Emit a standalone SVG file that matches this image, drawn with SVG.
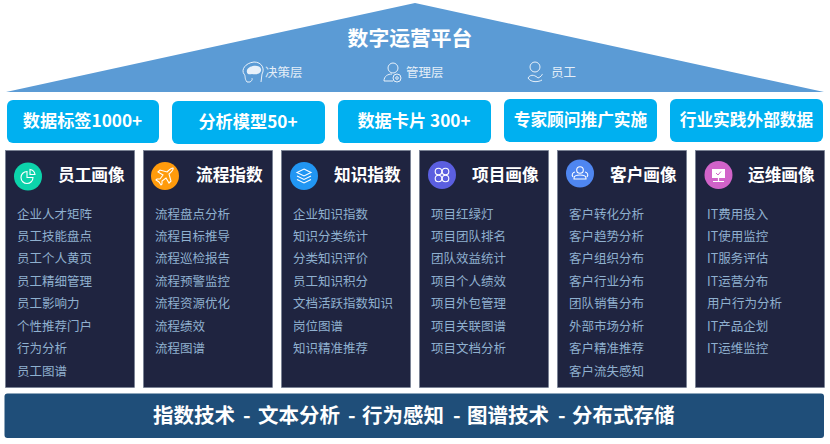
<svg xmlns="http://www.w3.org/2000/svg" width="830" height="444" viewBox="0 0 830 444">
<style>
text{font-family:"Noto Sans CJK SC","Noto Sans",sans-serif}
.top{fill:#00b0f0}
.tt{fill:#fff;font-size:16.7px;font-weight:700;text-anchor:middle}
.tb{font-size:17.2px}
.col{fill:#1f2440;stroke:#6f7a90;stroke-width:.6}
.h{fill:#fff;font-size:16.7px;font-weight:700}
.l{fill:#8fb0cf;font-size:12.5px}
.ic{fill:none;stroke:#fff;stroke-width:1.1}
.wl{fill:#e4eef8;font-size:12.5px}
.ww{fill:none;stroke:#e8f1fa;stroke-width:1}
</style>
<rect width="830" height="444" fill="#fff"/>
<g id="roof">
<polygon points="415,3 824,92 6,92" fill="#5b9bd5"/>
<text x="410" y="46" fill="#fff" font-size="20.8" font-weight="700" text-anchor="middle">数字运营平台</text>
<path class="ww" d="M247 82C244 78 246 76 244 74C241 70 245 63 254 62C262 62 265 69 262 74L261 82M247 82H250C253 80 252 79 252 78"/>
<path d="M247 70C249 65 260 64 261 69C262 74 255 75 252 74C249 75 246 74 247 70Z" fill="#e8f1fa"/>
<text x="265" y="76.500" class="wl">决策层</text>
<circle cx="393" cy="68" r="5" class="ww"/>
<path class="ww" d="M384 81C384 76 388 74 392 74M384 81H393"/>
<circle cx="397" cy="78" r="4" class="ww"/><circle cx="397" cy="78" r="1.300" class="ww"/>
<text x="406" y="76.500" class="wl">管理层</text>
<circle cx="535" cy="67" r="5" class="ww"/>
<path class="ww" d="M528 78C531 73 536 76 538 78C541 77 543 74 542 74M528 78C531 83 539 82 542 80"/>
<text x="551" y="76.500" class="wl">员工</text>
</g>
<g id="box1"><rect class="top" x="7" y="100" width="152" height="43" rx="6"/><text class="tt tb" x="82.500" y="127">数据标签1000+</text></g>
<g id="box2"><rect class="top" x="172" y="101" width="153" height="43" rx="6"/><text class="tt tb" x="248" y="128">分析模型50+</text></g>
<g id="box3"><rect class="top" x="338" y="100" width="153" height="43" rx="6"/><text class="tt tb" x="414" y="127">数据卡片 300+</text></g>
<g id="box4"><rect class="top" x="504" y="99" width="153" height="43" rx="6"/><text class="tt" x="580.500" y="126">专家顾问推广实施</text></g>
<g id="box5"><rect class="top" x="670" y="99" width="153" height="43" rx="6"/><text class="tt" x="746.500" y="126">行业实践外部数据</text></g>

<g id="col1"><rect class="col" x="5.500" y="150.500" width="129" height="237"/>
<circle cx="28" cy="176.500" r="14" fill="#0cd3ab"/>
<path class="ic" d="M27 171.500A6 6 0 1 0 33 177.500H27ZM30 169.500A6 6 0 0 1 35 174.500H30Z"/>
<text class="h" x="58" y="181">员工画像</text>
<text class="l" x="17" y="219">企业人才矩阵</text><text class="l" x="17" y="241">员工技能盘点</text><text class="l" x="17" y="263">员工个人黄页</text><text class="l" x="17" y="286">员工精细管理</text><text class="l" x="17" y="308">员工影响力</text><text class="l" x="17" y="331">个性推荐门户</text><text class="l" x="17" y="353">行为分析</text><text class="l" x="17" y="376">员工图谱</text></g>

<g id="col2"><rect class="col" x="143.500" y="150.500" width="129" height="237"/>
<circle cx="165" cy="176" r="14" fill="#ff9b0c"/>
<path class="ic" d="M173 168C171 168 168 171 167 172L160 170L158 172L163 175L160 179L157 179L156 180L159 182L161 185L162 184L162 181L166 178L169 183L171 181L169 174C171 172 174 170 173 168Z"/>
<text class="h" x="196" y="181">流程指数</text>
<text class="l" x="155" y="219">流程盘点分析</text><text class="l" x="155" y="241">流程目标推导</text><text class="l" x="155" y="263">流程巡检报告</text><text class="l" x="155" y="286">流程预警监控</text><text class="l" x="155" y="308">流程资源优化</text><text class="l" x="155" y="331">流程绩效</text><text class="l" x="155" y="353">流程图谱</text></g>

<g id="col3"><rect class="col" x="281.500" y="150.500" width="129" height="237"/>
<circle cx="304" cy="176" r="14" fill="#2196f3"/>
<path class="ic" d="M304 169L311 172.500L304 176L297 172.500ZM297 176L304 179.500L311 176M297 179.500L304 183L311 179.500"/>
<text class="h" x="334" y="181">知识指数</text>
<text class="l" x="293" y="219">企业知识指数</text><text class="l" x="293" y="241">知识分类统计</text><text class="l" x="293" y="263">分类知识评价</text><text class="l" x="293" y="286">员工知识积分</text><text class="l" x="293" y="308">文档活跃指数知识</text><text class="l" x="293" y="331">岗位图谱</text><text class="l" x="293" y="353">知识精准推荐</text></g>

<g id="col4"><rect class="col" x="419.500" y="150.500" width="129" height="237"/>
<circle cx="442" cy="175" r="14" fill="#5b5fe0"/>
<g class="ic"><circle cx="438.500" cy="171.500" r="3.300"/><circle cx="445.500" cy="171.500" r="3.300"/><circle cx="438.500" cy="178.500" r="3.300"/><circle cx="445.500" cy="178.500" r="3.300"/></g>
<text class="h" x="472" y="181">项目画像</text>
<text class="l" x="431" y="219">项目红绿灯</text><text class="l" x="431" y="241">项目团队排名</text><text class="l" x="431" y="263">团队效益统计</text><text class="l" x="431" y="286">项目个人绩效</text><text class="l" x="431" y="308">项目外包管理</text><text class="l" x="431" y="331">项目关联图谱</text><text class="l" x="431" y="353">项目文档分析</text></g>

<g id="col5"><rect class="col" x="557.500" y="150.500" width="129" height="237"/>
<circle cx="580" cy="173.500" r="14" fill="#4f86f0"/>
<g class="ic"><circle cx="580" cy="170" r="3.300"/><path d="M574 178C574 174 586 174 586 178V179H574ZM575 172A3 3 0 0 0 573 177M585 172A3 3 0 0 1 587 177"/></g>
<text class="h" x="610" y="181">客户画像</text>
<text class="l" x="569" y="219">客户转化分析</text><text class="l" x="569" y="241">客户趋势分析</text><text class="l" x="569" y="263">客户组织分布</text><text class="l" x="569" y="286">客户行业分布</text><text class="l" x="569" y="308">团队销售分布</text><text class="l" x="569" y="331">外部市场分析</text><text class="l" x="569" y="353">客户精准推荐</text><text class="l" x="569" y="376">客户流失感知</text></g>

<g id="col6"><rect class="col" x="695.500" y="150.500" width="129" height="237"/>
<circle cx="718.500" cy="175" r="14" fill="#d163c9"/>
<path d="M712 169H725V178H712Z" fill="#fff"/><path d="M716 173L718 175L721 171.500" fill="none" stroke="#d163c9" stroke-width="1"/><path d="M718.500 178V181M713 181.500H724" stroke="#fff" stroke-width="1.200" fill="none"/>
<text class="h" x="748" y="181">运维画像</text>
<text class="l" x="707" y="219">IT费用投入</text><text class="l" x="707" y="241">IT使用监控</text><text class="l" x="707" y="263">IT服务评估</text><text class="l" x="707" y="286">IT运营分布</text><text class="l" x="707" y="308">用户行为分析</text><text class="l" x="707" y="331">IT产品企划</text><text class="l" x="707" y="353">IT运维监控</text></g>

<g id="base"><rect x="4.500" y="393.500" width="819.500" height="44.500" rx="3" fill="#1f4e79"/>
<text y="423" fill="#fff" font-size="20.500" font-weight="700"><tspan x="153">指数技术</tspan><tspan x="243">-</tspan><tspan x="258">文本分析</tspan><tspan x="348">-</tspan><tspan x="362">行为感知</tspan><tspan x="453">-</tspan><tspan x="467">图谱技术</tspan><tspan x="558">-</tspan><tspan x="572">分布式存储</tspan></text></g>
<g id="connectors"/>
</svg>
